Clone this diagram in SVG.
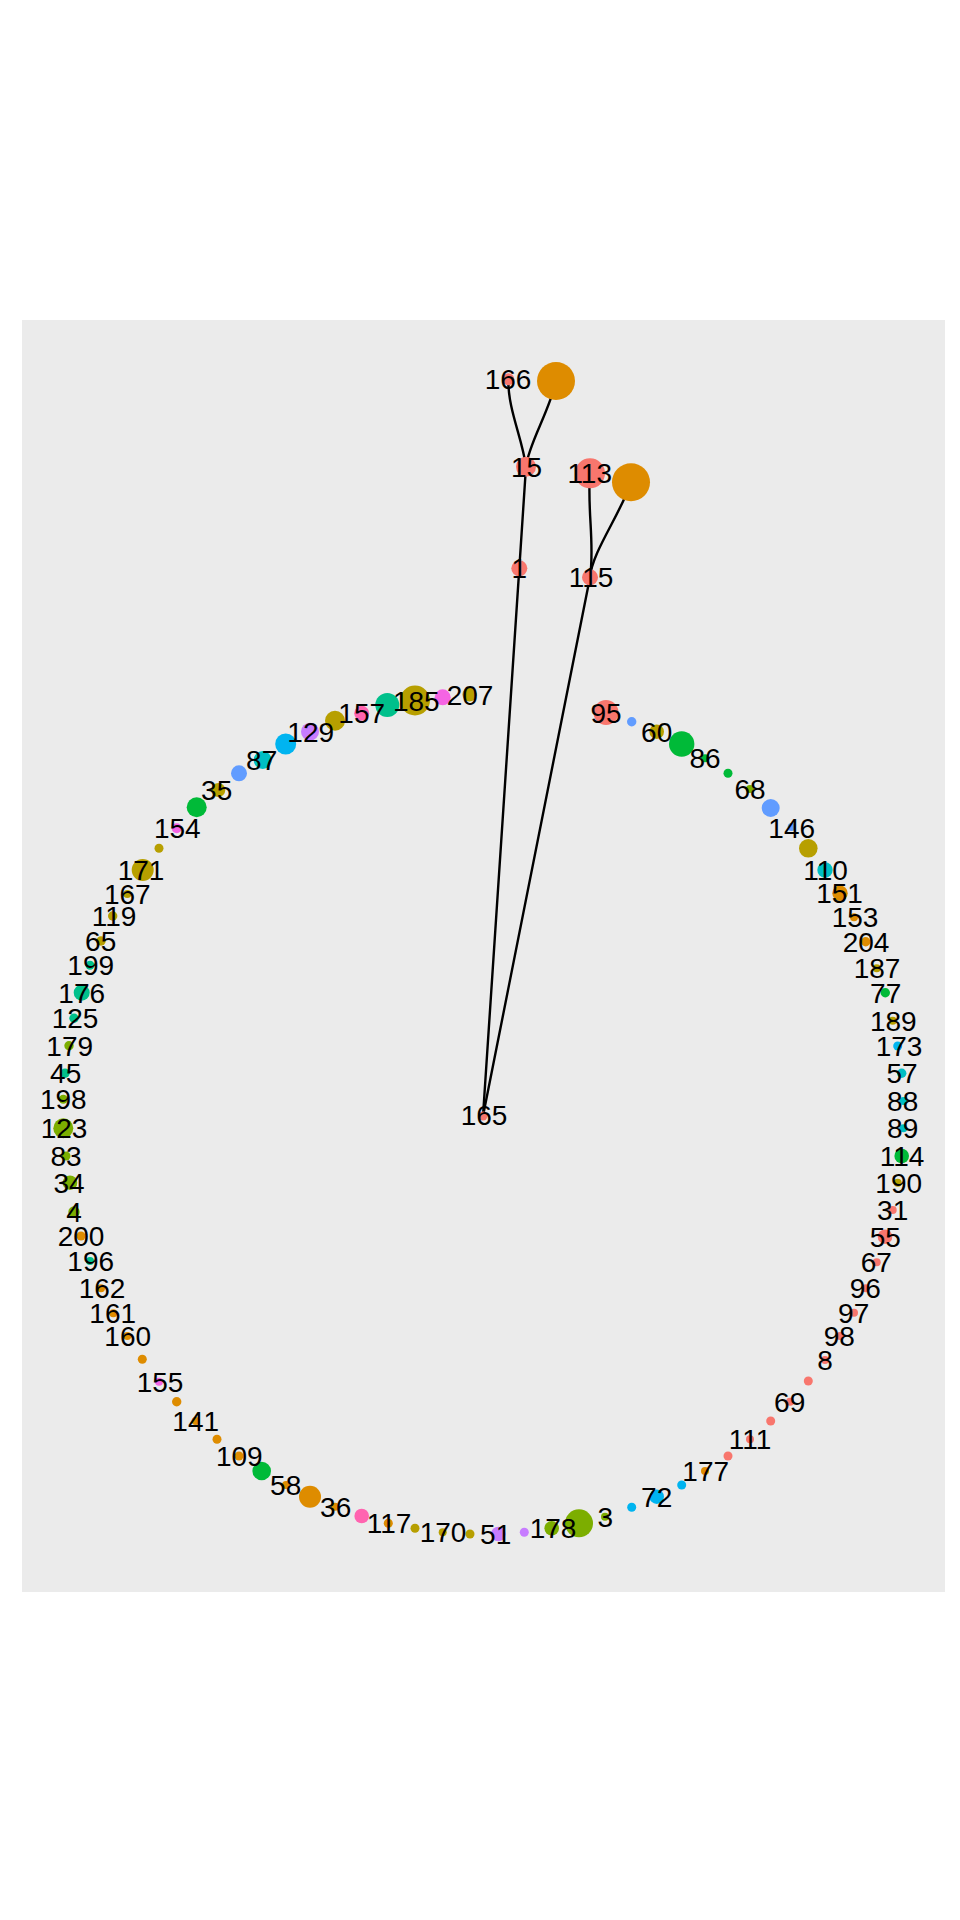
<svg xmlns="http://www.w3.org/2000/svg" width="960" height="1920" viewBox="0 0 960 1920">
<style>
.e{fill:none;stroke:#000;stroke-width:2.4;stroke-linecap:round}
text{font-family:"Liberation Sans",Arial,sans-serif;font-size:28px;text-anchor:middle;fill:#000}
.r{fill:#F8766D}.o{fill:#DE8C00}.g{fill:#B79F00}.ol{fill:#7CAE00}.gr{fill:#00BA38}.tg{fill:#00C08B}
.cy{fill:#00BFC4}.bl{fill:#00B4F0}.pw{fill:#619CFF}.pu{fill:#C77CFF}.mg{fill:#F564E3}.pk{fill:#FF64B0}
</style>
<rect width="960" height="1920" fill="#FFFFFF"/>
<rect x="22" y="320" width="923" height="1272" fill="#EBEBEB"/>
<g id="connectors">
<path class="e" d="M483,1116 L519.3,568.3 L526,466.7"/>
<path class="e" d="M526,466.7 C522,437 508,410 508.3,379.3"/>
<path class="e" d="M526,466.7 C528,445 550,410 556,381"/>
<path class="e" d="M483,1116 L590,577.3"/>
<path class="e" d="M590,577.3 C595,545 587,510 590,473.3"/>
<path class="e" d="M590,577.3 C592,552 620,515 631,482.3"/>
</g>
<g id="nodes">
<g id="u1"><circle class="o" cx="556" cy="381" r="19"/></g>
<g id="u2"><circle class="o" cx="631" cy="482.3" r="19"/></g>
<g id="u3"><circle class="pw" cx="631.7" cy="721.7" r="4.7"/></g>
<g id="u4"><circle class="gr" cx="681.7" cy="744" r="12.7"/></g>
<g id="u5"><circle class="gr" cx="728" cy="773.3" r="4.5"/></g>
<g id="u6"><circle class="pw" cx="770.7" cy="808" r="9"/></g>
<g id="u7"><circle class="g" cx="808.3" cy="848.3" r="9.3"/></g>
<g id="u8"><circle class="r" cx="808.3" cy="1381" r="4.5"/></g>
<g id="u9"><circle class="r" cx="770.7" cy="1421" r="4.5"/></g>
<g id="u10"><circle class="r" cx="728" cy="1456" r="4.5"/></g>
<g id="u11"><circle class="bl" cx="681.7" cy="1485" r="4.5"/></g>
<g id="u12"><circle class="bl" cx="631.7" cy="1507.3" r="4.5"/></g>
<g id="u13"><circle class="ol" cx="579" cy="1523.3" r="14"/></g>
<g id="u14"><circle class="pu" cx="524.3" cy="1532.3" r="4.5"/></g>
<g id="u15"><circle class="g" cx="470" cy="1534" r="4.5"/></g>
<g id="u16"><circle class="g" cx="415" cy="1528.3" r="4.5"/></g>
<g id="u17"><circle class="pk" cx="361.7" cy="1516" r="7.3"/></g>
<g id="u18"><circle class="o" cx="310" cy="1496.7" r="11"/></g>
<g id="u19"><circle class="gr" cx="261.7" cy="1471" r="9.3"/></g>
<g id="u20"><circle class="o" cx="217" cy="1439.3" r="4.5"/></g>
<g id="u21"><circle class="o" cx="176.7" cy="1401.7" r="4.7"/></g>
<g id="u22"><circle class="o" cx="142.3" cy="1359.3" r="4.5"/></g>
<g id="u23"><circle class="g" cx="159" cy="848.3" r="4.5"/></g>
<g id="u24"><circle class="gr" cx="196.7" cy="807.3" r="10"/></g>
<g id="u25"><circle class="pw" cx="239" cy="773.3" r="8"/></g>
<g id="u26"><circle class="bl" cx="285.7" cy="744" r="10.5"/></g>
<g id="u27"><circle class="g" cx="335" cy="720.7" r="10"/></g>
<g id="u28"><circle class="tg" cx="387.3" cy="705" r="12"/></g>
<g id="u29"><circle class="mg" cx="442.7" cy="697.3" r="8"/></g>

<g id="n165"><circle class="r" cx="483" cy="1116" r="4.5"/><text x="484" y="1125">165</text></g>
<g id="n1"><circle class="r" cx="519.3" cy="568.3" r="8"/><text x="519.3" y="578.3">1</text></g>
<g id="n15"><circle class="r" cx="526" cy="466.7" r="10"/><text x="526.5" y="476.7">15</text></g>
<g id="n166"><circle class="r" cx="508.3" cy="379.3" r="6"/><text x="508" y="389">166</text></g>
<g id="n115"><circle class="r" cx="590" cy="577.3" r="8"/><text x="591" y="587.3">115</text></g>
<g id="n113"><circle class="r" cx="590" cy="473.3" r="15"/><text x="589.7" y="483.3">113</text></g>

<g id="n95"><circle class="r" cx="606" cy="712.5" r="12.5"/><text x="606" y="722.5">95</text></g>
<g id="n60"><circle class="g" cx="656.7" cy="731.7" r="7.3"/><text x="656.7" y="741.7">60</text></g>
<g id="n86"><circle class="gr" cx="705" cy="758.3" r="4"/><text x="705" y="768.3">86</text></g>
<g id="n68"><circle class="ol" cx="750" cy="789" r="4"/><text x="750" y="799">68</text></g>
<g id="n146"><circle class="pw" cx="791.7" cy="827" r="4"/><text x="791.7" y="837.5">146</text></g>
<g id="n110"><circle class="cy" cx="825" cy="870" r="7.7"/><text x="825.5" y="880">110</text></g>
<g id="n151"><circle class="o" cx="840" cy="893.3" r="7.7"/><text x="839.5" y="903.3">151</text></g>
<g id="n153"><circle class="o" cx="854" cy="917.3" r="4"/><text x="855" y="927.3">153</text></g>
<g id="n204"><circle class="o" cx="865.7" cy="941.7" r="4.7"/><text x="866" y="951.7">204</text></g>
<g id="n187"><circle class="g" cx="876.7" cy="968.3" r="4"/><text x="877" y="978.3">187</text></g>
<g id="n77"><circle class="gr" cx="885.3" cy="992.7" r="4.7"/><text x="885.7" y="1002.7">77</text></g>
<g id="n189"><circle class="g" cx="892.7" cy="1020.7" r="4"/><text x="893.3" y="1030.7">189</text></g>
<g id="n173"><circle class="bl" cx="897.7" cy="1046" r="4.5"/><text x="899" y="1056">173</text></g>
<g id="n57"><circle class="cy" cx="901.7" cy="1073.3" r="4.7"/><text x="902" y="1083.3">57</text></g>
<g id="n88"><circle class="cy" cx="903.3" cy="1101" r="4"/><text x="902.7" y="1111">88</text></g>
<g id="n89"><circle class="cy" cx="903.3" cy="1128.3" r="4"/><text x="902.7" y="1138.3">89</text></g>
<g id="n114"><circle class="gr" cx="901.7" cy="1156" r="7.3"/><text x="902" y="1166">114</text></g>
<g id="n190"><circle class="g" cx="897.7" cy="1182.7" r="4"/><text x="898.7" y="1192.7">190</text></g>
<g id="n31"><circle class="r" cx="892.7" cy="1210" r="4"/><text x="892.7" y="1220">31</text></g>
<g id="n55"><circle class="r" cx="885" cy="1236.7" r="7.3"/><text x="885.3" y="1246.7">55</text></g>
<g id="n67"><circle class="r" cx="876.7" cy="1262.3" r="4"/><text x="876.3" y="1272.3">67</text></g>
<g id="n96"><circle class="r" cx="865.7" cy="1288.3" r="4"/><text x="865.3" y="1298.3">96</text></g>
<g id="n97"><circle class="r" cx="854" cy="1312.7" r="4"/><text x="853.7" y="1322.7">97</text></g>
<g id="n98"><circle class="r" cx="840" cy="1336" r="4"/><text x="839.3" y="1346">98</text></g>
<g id="n8"><circle class="r" cx="825" cy="1360" r="4"/><text x="825" y="1370">8</text></g>
<g id="n69"><circle class="r" cx="790" cy="1401.7" r="4"/><text x="789.7" y="1411.7">69</text></g>
<g id="n111"><circle class="r" cx="750" cy="1439.3" r="4"/><text x="750" y="1449.3">111</text></g>
<g id="n177"><circle class="o" cx="705" cy="1471" r="4"/><text x="705.7" y="1481">177</text></g>
<g id="n72"><circle class="bl" cx="656.7" cy="1496.7" r="7.3"/><text x="656.7" y="1506.7">72</text></g>
<g id="n3"><circle class="ol" cx="605" cy="1516.7" r="4"/><text x="605.3" y="1526.7">3</text></g>
<g id="n178"><circle class="ol" cx="551.7" cy="1528.3" r="7.3"/><text x="553" y="1538.3">178</text></g>
<g id="n51"><circle class="pu" cx="498.3" cy="1534" r="7.3"/><text x="495.7" y="1544">51</text></g>
<g id="n170"><circle class="g" cx="442.7" cy="1532.3" r="4"/><text x="443" y="1542.3">170</text></g>
<g id="n117"><circle class="o" cx="388.3" cy="1523.3" r="4.5"/><text x="389" y="1533.3">117</text></g>
<g id="n36"><circle class="o" cx="335" cy="1506.7" r="4"/><text x="335.7" y="1516.7">36</text></g>
<g id="n58"><circle class="o" cx="286" cy="1485" r="4"/><text x="285.7" y="1495">58</text></g>
<g id="n109"><circle class="o" cx="239" cy="1456" r="4.5"/><text x="239.3" y="1466">109</text></g>
<g id="n141"><circle class="o" cx="195.7" cy="1421" r="4"/><text x="195.7" y="1431">141</text></g>
<g id="n155"><circle class="mg" cx="159" cy="1381.7" r="4"/><text x="160" y="1391.7">155</text></g>
<g id="n160"><circle class="o" cx="127.3" cy="1336" r="4"/><text x="127.7" y="1346">160</text></g>
<g id="n161"><circle class="o" cx="113.3" cy="1313.3" r="4"/><text x="112.7" y="1323.3">161</text></g>
<g id="n162"><circle class="o" cx="101" cy="1288.3" r="4"/><text x="102" y="1298.3">162</text></g>
<g id="n196"><circle class="tg" cx="90" cy="1261" r="4"/><text x="90.7" y="1271">196</text></g>
<g id="n200"><circle class="o" cx="81" cy="1236" r="4.5"/><text x="81" y="1246">200</text></g>
<g id="n4"><circle class="ol" cx="74" cy="1212" r="5.7"/><text x="74" y="1222">4</text></g>
<g id="n34"><circle class="ol" cx="70" cy="1182.7" r="7.3"/><text x="69" y="1192.7">34</text></g>
<g id="n83"><circle class="ol" cx="66" cy="1156" r="4.5"/><text x="66" y="1166">83</text></g>
<g id="n123"><circle class="ol" cx="63.3" cy="1128.3" r="10"/><text x="64" y="1138.3">123</text></g>
<g id="n198"><circle class="ol" cx="63.3" cy="1099.3" r="4.5"/><text x="63.3" y="1109.3">198</text></g>
<g id="n45"><circle class="tg" cx="65" cy="1073.3" r="4.7"/><text x="65.7" y="1083.3">45</text></g>
<g id="n179"><circle class="ol" cx="69" cy="1045.7" r="4.7"/><text x="69.7" y="1055.7">179</text></g>
<g id="n125"><circle class="tg" cx="74" cy="1018.3" r="4.7"/><text x="75" y="1028.3">125</text></g>
<g id="n176"><circle class="tg" cx="81.7" cy="992.7" r="8"/><text x="81.7" y="1002.7">176</text></g>
<g id="n199"><circle class="tg" cx="90" cy="965.3" r="4.5"/><text x="90.7" y="975.3">199</text></g>
<g id="n65"><circle class="g" cx="101" cy="941" r="4.7"/><text x="100.7" y="951">65</text></g>
<g id="n119"><circle class="g" cx="112.7" cy="916" r="4.7"/><text x="114" y="926">119</text></g>
<g id="n167"><circle class="g" cx="127.3" cy="894" r="4"/><text x="127.3" y="904">167</text></g>
<g id="n171"><circle class="g" cx="142.7" cy="870" r="11"/><text x="141" y="880">171</text></g>
<g id="n154"><circle class="mg" cx="176.7" cy="828.3" r="5"/><text x="177.3" y="838.3">154</text></g>
<g id="n35"><circle class="g" cx="218.3" cy="790" r="7"/><text x="216.7" y="800">35</text></g>
<g id="n87"><circle class="cy" cx="262.7" cy="760" r="9"/><text x="261.7" y="770">87</text></g>
<g id="n129"><circle class="pu" cx="310" cy="731.7" r="9"/><text x="310.7" y="741.7">129</text></g>
<g id="n157"><circle class="pk" cx="361.7" cy="713.3" r="7.5"/><text x="361.7" y="723.3">157</text></g>
<g id="n185"><circle class="g" cx="415" cy="700.5" r="15"/><text x="416.3" y="710.5">185</text></g>
<g id="n207"><circle class="g" cx="469.5" cy="694.5" r="7"/><text x="470" y="704.5">207</text></g>
</g>
</svg>
